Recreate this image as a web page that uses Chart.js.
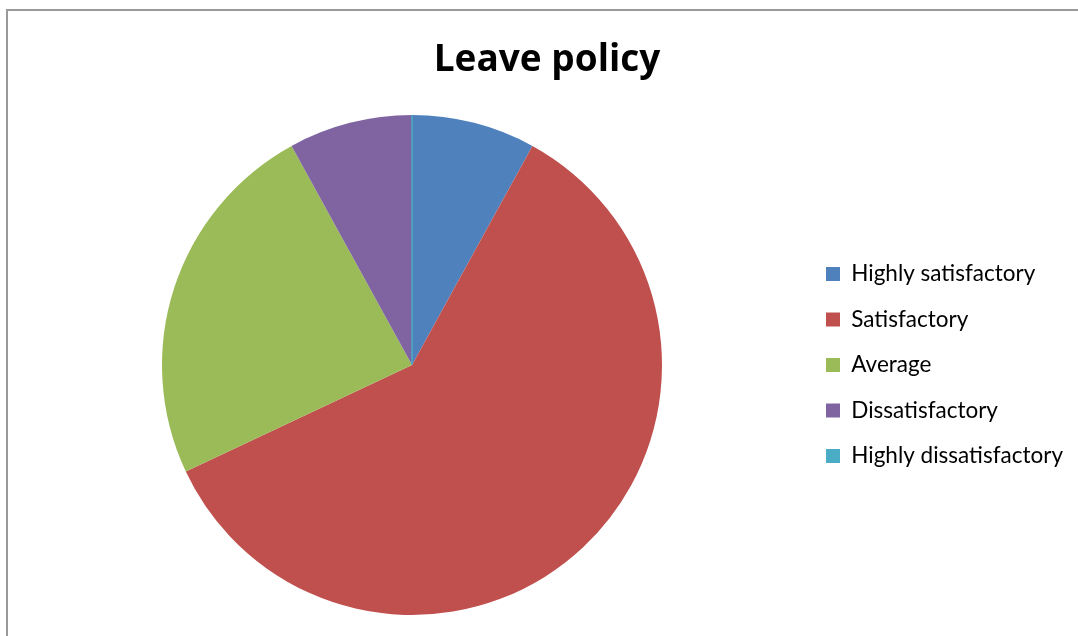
<!DOCTYPE html>
<html>
<head>
<meta charset="utf-8">
<title>Leave policy</title>
<script src="https://cdn.jsdelivr.net/npm/chart.js@4/dist/chart.umd.min.js"></script>
<style>
  html, body { margin: 0; padding: 0; background: #fff; overflow: hidden; }
  .frame {
    position: absolute; left: 6px; top: 9px; width: 1200px; height: 800px;
    border-left: 2px solid #9a9a9a; border-top: 2px solid #9a9a9a;
  }
  #leaveChart { position: absolute; left: 0; top: 0; }
</style>
</head>
<body>
<div class="frame"></div>
<canvas id="leaveChart" width="1078" height="636"></canvas>
<script>
// 数据
const categories = ['Highly satisfactory', 'Satisfactory', 'Average', 'Dissatisfactory', 'Highly dissatisfactory'];
const responses = [2, 15, 6, 2, 0];
const sliceColors = ['#4F81BD', '#C0504D', '#9BBB59', '#8064A2', '#4BACC6'];

const legendFont = 'Lato, "Open Sans", sans-serif';
const titleFont = '"Open Sans", Lato, sans-serif';
const legendFontSize = 22.5;
const legendBox = 14;
const legendPadding = 23;
const legendBoxX = 826;   // 图例方块左边
const pieCenterX = 412;

// 量一下图例最长文字，用来算右边留白
function legendTextWidth() {
    const c = document.createElement('canvas').getContext('2d');
    c.font = legendFontSize + 'px ' + legendFont;
    return Math.max(...categories.map(t => c.measureText(t).width));
}

// 值为0的扇区画成一条线（跟原图一样）
const zeroSliceLine = {
    id: 'zeroSliceLine',
    afterDatasetsDraw(chart) {
        const meta = chart.getDatasetMeta(0);
        const ctx = chart.ctx;
        meta.data.forEach((arc, i) => {
            if (responses[i] !== 0) return;
            const { x, y, startAngle, outerRadius } = arc.getProps(['x', 'y', 'startAngle', 'outerRadius'], true);
            ctx.save();
            ctx.strokeStyle = sliceColors[i];
            ctx.lineWidth = 1.5;
            ctx.beginPath();
            ctx.moveTo(x, y);
            ctx.lineTo(x + Math.cos(startAngle) * outerRadius, y + Math.sin(startAngle) * outerRadius);
            ctx.stroke();
            ctx.restore();
        });
    }
};

function renderLeaveChart() {
    const legendLeft = legendBoxX - legendPadding;
    const padLeft = 2 * pieCenterX - legendLeft;
    const legendW = legendPadding + legendBox + legendFontSize / 2 + legendTextWidth() + 10;
    const padRight = 1078 - (legendLeft + legendW);

    const ctx = document.getElementById('leaveChart').getContext('2d');
    new Chart(ctx, {
        type: 'pie',
        data: {
            labels: categories,
            datasets: [{
                data: responses,
                backgroundColor: sliceColors,
                borderWidth: 0
            }]
        },
        options: {
            responsive: false,
            animation: false,
            layout: {
                padding: { left: padLeft, right: padRight, top: 0, bottom: 21 }
            },
            plugins: {
                title: {
                    display: true,
                    text: 'Leave policy',
                    color: '#000',
                    font: { family: titleFont, size: 37, weight: 'bold' },
                    padding: { top: 38, bottom: 32.6 }
                },
                legend: {
                    position: 'right',
                    fullSize: false,
                    labels: {
                        color: '#000',
                        boxWidth: legendBox,
                        boxHeight: legendBox,
                        padding: legendPadding,
                        font: { family: legendFont, size: legendFontSize }
                    }
                },
                tooltip: { enabled: false }
            }
        },
        plugins: [zeroSliceLine]
    });
}

document.addEventListener('DOMContentLoaded', renderLeaveChart);
</script>
</body>
</html>
